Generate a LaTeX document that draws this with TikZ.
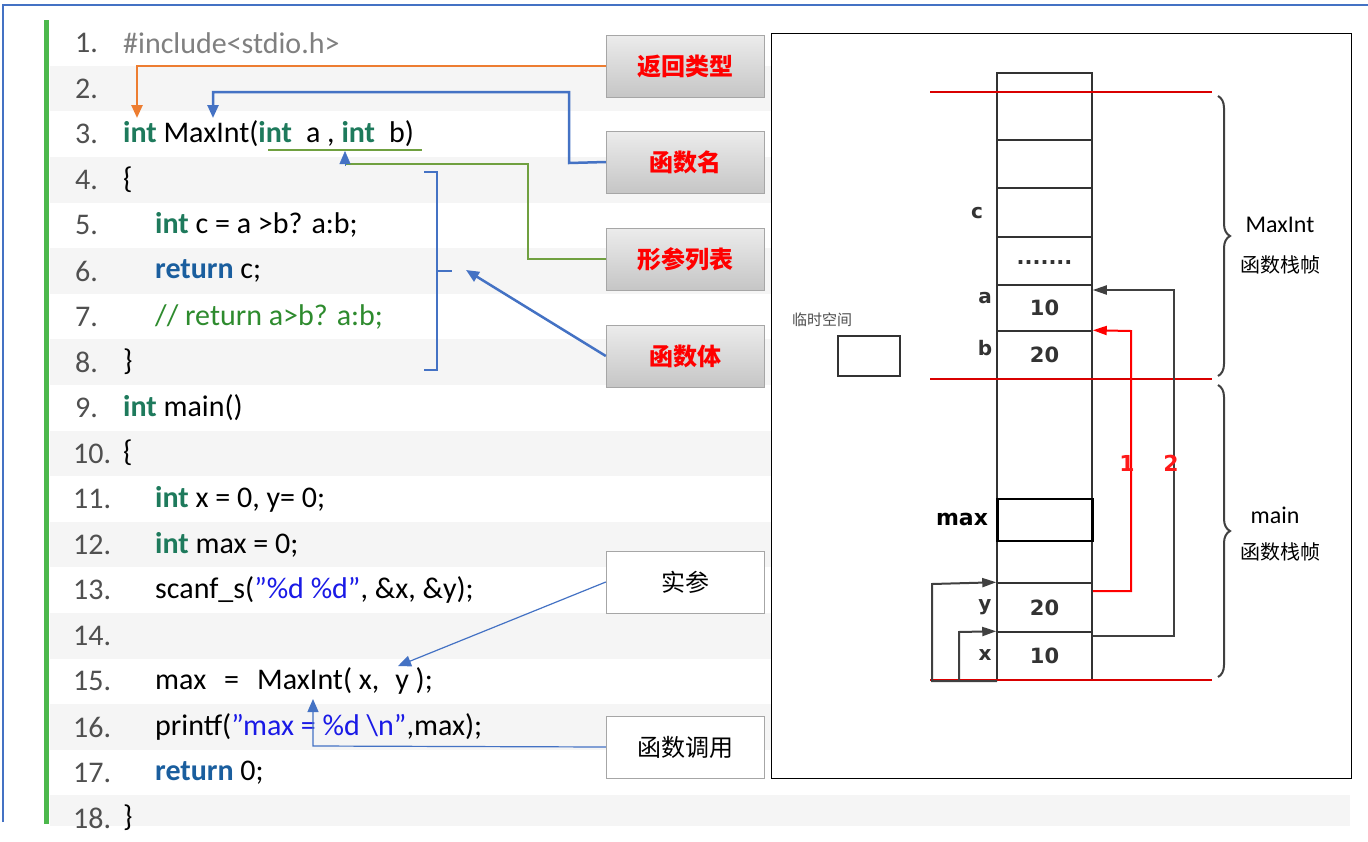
\documentclass[tikz,border=0pt]{standalone}
\usepackage{fontspec}
\setmainfont{Carlito}
\newfontfamily\cjk{Noto Sans CJK SC}
\newfontfamily\djv{DejaVu Sans}
\usetikzlibrary{arrows.meta,decorations.pathreplacing}
\definecolor{kw}{HTML}{1E7A5C}
\definecolor{rt}{HTML}{1A5E9E}
\definecolor{cm}{HTML}{2E8B2E}
\definecolor{st}{HTML}{1A1AE6}
\definecolor{ln}{HTML}{505050}
\definecolor{ab}{HTML}{4472C4}
\definecolor{ag}{HTML}{70A040}
\definecolor{ao}{HTML}{ED7D31}
\newcommand{\kw}[1]{\textcolor{kw}{#1}}
\newcommand{\qq}{\symbol{34}}
\begin{document}
\begin{tikzpicture}[x=1pt,y=-1pt,
  code/.style={anchor=west,inner sep=0pt,font=\fontsize{30}{34}\selectfont},
  lbl/.style={draw=gray!70,top color=gray!15,bottom color=gray!45,minimum width=158pt,minimum height=62pt,font=\cjk\bfseries\fontsize{24}{28}\selectfont,text=red},
  wlbl/.style={draw=gray!70,fill=white,minimum width=158pt,minimum height=62pt,font=\cjk\fontsize{24}{28}\selectfont},
  cell/.style={draw=black!80,line width=1.5pt,minimum width=95pt,inner sep=0pt,font=\djv\bfseries\fontsize{21}{24}\selectfont,text=black!80},
  sl/.style={font=\djv\bfseries\fontsize{20}{24}\selectfont,text=black!80},
  cn/.style={font=\cjk\fontsize{20}{24}\selectfont},
  redl/.style={red!85!black,line width=2pt},
  blk/.style={draw=black!75,line width=2pt,-{Triangle[length=14pt,width=9pt]}},
  tri/.style={-{Triangle[length=13pt,width=11pt]}}]
\useasboundingbox (0,0) rectangle (1368,841);
\fill[white] (0,0) rectangle (1368,841);
% stripes
\foreach \k in {2,4,...,18}{\fill[black!4] (50,{43+45.6*(\k-1)-22.8}) rectangle (1350,{43+45.6*(\k-1)+22.8});}
\draw[ab,line width=2.5pt] (3,822) -- (3,5) -- (1368,5);
\draw[green!60!black!70,line width=5pt] (46,20) -- (46,824);
\fill[white] (0,826) rectangle (1368,841);
% line numbers
\foreach \k in {1,...,18}{\node[code,text=ln] (n\k) at ({\k<10?75:73},{43+45.6*(\k-1)}) {\k.};}
% code
\node[code,text=gray] (c1) at (123,43) {\#include<stdio.h>};
\node[code] (c3) at (123,134) {\textbf{\kw{int}} MaxInt(\textbf{\kw{int}}\hspace{14pt}a , \textbf{\kw{int}}\hspace{14pt}b)};
\node[code] (c4) at (123,180) {\{};
\node[code] (c5) at (155,225) {\textbf{\kw{int}} c = a >b? a:b;};
\node[code] (c6) at (155,271) {\textbf{\textcolor{rt}{return}} c;};
\node[code,text=cm] (c7) at (155,317) {// return a>b? a:b;};
\node[code] (c8) at (123,362) {\}};
\node[code] (c9) at (123,408) {\textbf{\kw{int}} main()};
\node[code] (c10) at (123,453) {\{};
\node[code] (c11) at (155,499) {\textbf{\kw{int}} x = 0, y= 0;};
\node[code] (c12) at (155,545) {\textbf{\kw{int}} max = 0;};
\node[code] (c13) at (155,590) {scanf\_s(\textcolor{st}{\qq\%d \%d\qq}, \&x, \&y);};
\node[code] (c15) at (155,681) {max\hspace{18pt}=\hspace{18pt}MaxInt( x,\hspace{16pt}y );};
\node[code] (c16) at (155,727) {printf(\textcolor{st}{\qq max = \%d \textbackslash n\qq},max);};
\node[code] (c17) at (155,773) {\textbf{\textcolor{rt}{return}} 0;};
\node[code] (c18) at (123,818) {\}};
% right panel
\node[draw=black,line width=1pt,minimum width=580pt,minimum height=745pt,inner sep=0pt,fill=white] (panel) at (1061,405.5) {};
\foreach \k in {2,4,...,14}{\fill[black!4] (792,{43+45.6*(\k-1)-22.8}) rectangle (1330,{43+45.6*(\k-1)+22.8});}
\fill[white] (792,50) rectangle (1330,697);
% labels
\node[lbl] (L1) at (685,66) {返回类型};
\node[lbl] (L2) at (685,162) {函数名};
\node[lbl] (L3) at (685,259) {形参列表};
\node[lbl] (L4) at (685,356) {函数体};
\node[wlbl] (L5) at (685,582) {实参};
\node[wlbl] (L6) at (685,747) {函数调用};
% arrows left
\coordinate (o1) at (137,118);
\draw[ao,line width=2.5pt,tri] (L1.west) -- (137,66) -- (o1);
\coordinate (b1) at (213,118);
\draw[ab,line width=2.5pt,tri] (L2.west) -- (569,163) -- (569,92) -- (213,92) -- (b1);
\coordinate (g1a) at (268,150); \coordinate (g1b) at (422,150);
\draw[ag,line width=2.5pt] (g1a) -- (g1b);
\coordinate (g2) at (345,151);
\draw[ag,line width=2.5pt] (L3.west) -- (528,259) -- (528,164) -- (345,164);
\draw[ab,tri] (345,166) -- (g2);
\draw[ab,line width=2.5pt] (424,172) -- (437,172) -- (437,370) -- (424,370);
\coordinate (br) at (452,271);
\draw[ab,line width=2.5pt] (437,271) -- (br);
\coordinate (bt) at (466,270);
\draw[ab,line width=2.5pt,tri] (L4.west) -- (bt);
\coordinate (sc) at (398,666);
\draw[ab,line width=1.2pt,tri] (L5.west) -- (sc);
\coordinate (fc) at (313,699);
\draw[ab,line width=1.2pt,tri] (L6.west) -- (313,746) -- (fc);
% stack
\node[cell,minimum height=67pt] (s0) at (1044.5,106.5) {};
\node[cell,minimum height=48pt] (s1) at (1044.5,164) {};
\node[cell,minimum height=49pt] (s2) at (1044.5,212.5) {};
\node[cell,minimum height=48pt] (s3) at (1044.5,261) {\raisebox{-6pt}{.......}};
\node[cell,minimum height=46pt] (s4) at (1044.5,308) {10};
\node[cell,minimum height=48pt] (s5) at (1044.5,355) {20};
\node[cell,minimum height=204pt] (s6) at (1044.5,481) {};
\node[cell,minimum height=49pt] (s7) at (1044.5,607.5) {20};
\node[cell,minimum height=48pt] (s8) at (1044.5,656) {10};
\node[draw=black,line width=2.5pt,minimum width=95pt,minimum height=42pt,fill=white] (mx) at (1045,520) {};
\node[sl] (lc) at (977,213) {c};
\node[sl] (la) at (985,298) {a};
\node[sl] (lb) at (985,348) {b};
\node[sl,font=\djv\bfseries\fontsize{22}{24}\selectfont,text=black] (lm) at (962,519) {max};
\node[sl] (ly) at (985,607) {y};
\node[sl] (lx) at (985,655) {x};
\draw[redl] (930,92) -- (1212,92);
\draw[redl] (930,379) -- (1212,379);
\draw[redl] (930,680) -- (1212,680);
\draw[black!75,line width=2pt,decorate,decoration={brace,amplitude=12pt}] (1218,96) -- (1218,376);
\draw[black!75,line width=2pt,decorate,decoration={brace,amplitude=12pt}] (1218,385) -- (1218,677);
\node[font=\fontsize{24}{28}\selectfont] (t1) at (1280,225) {MaxInt};
\node[cn] (t2) at (1280,265) {函数栈帧};
\node[font=\fontsize{24}{28}\selectfont] (t3) at (1275,515) {main};
\node[cn] (t4) at (1280,552) {函数栈帧};
\node[font=\cjk\fontsize{15}{18}\selectfont,text=black!70] (tmp) at (822,320) {临时空间};
\node[draw=black!80,line width=1.5pt,minimum width=62pt,minimum height=40pt] (tbox) at (869,356) {};
% stack arrows
\draw[blk] (s8.east |- 0,636) -- (1174,636) -- (1174,290) -- (s4.east |- 0,290);
\draw[draw=red,line width=2pt,-{Triangle[length=14pt,width=9pt]},red] (s7.east |- 0,591) -- (1131,591) -- (1131,331) -- (s5.north east);
\node[text=red!90,font=\djv\bfseries\fontsize{22}{24}\selectfont] (n1) at (1127,463) {1};
\node[text=red!90,font=\djv\bfseries\fontsize{22}{24}\selectfont] (n2) at (1171,463) {2};
\draw[blk] (997,681) -- (932,681) -- (932,584) -- (s7.north west);
\draw[blk] (959,681) -- (959,632) -- (s8.north west);
\end{tikzpicture}
\end{document}
